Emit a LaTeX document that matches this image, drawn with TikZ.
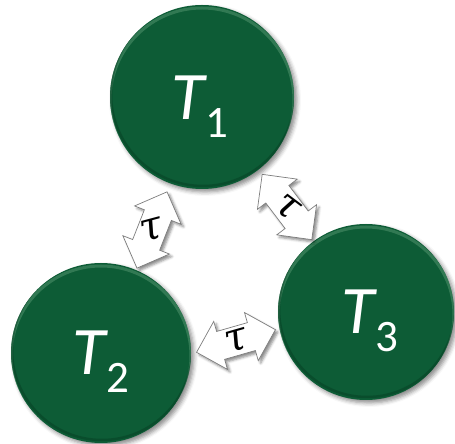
\documentclass[tikz,border=0pt]{standalone}
\usepackage{fontspec}
\setmainfont{Carlito}
\newfontfamily\taufont{DejaVu Serif}
\usetikzlibrary{shadows.blur,calc}
\definecolor{tgreen}{RGB}{13,92,54}
\definecolor{trim}{RGB}{80,145,108}
\definecolor{tdark}{RGB}{4,50,28}
\definecolor{aline}{RGB}{125,125,125}
\newcommand\Tlab[1]{\fontsize{68}{68}\selectfont\itshape T\kern1pt\upshape\raisebox{-18pt}{\fontsize{45}{45}\selectfont #1}}
\begin{document}
\begin{tikzpicture}[x=1pt,y=1pt,
  task/.style={circle, fill=tgreen, inner sep=0pt,
    blur shadow={shadow xshift=3pt, shadow yshift=-3pt, shadow blur radius=4pt, shadow opacity=45}},
  tlabel/.style={text=white, inner sep=0pt},
  taunode/.style={inner sep=0pt, font=\taufont\itshape\fontsize{40}{40}\selectfont},
  arrowbody/.style={draw=aline, fill=white, line width=0.7pt, line join=miter,
    blur shadow={shadow xshift=2.5pt, shadow yshift=-2.5pt, shadow blur radius=2.5pt, shadow opacity=45}},
  pics/dblarrow/.style={code={
    \draw[arrowbody] (-41,0) -- (-16,25) -- (-16,14.5) -- (16,14.5) -- (16,25) -- (41,0)
      -- (16,-25) -- (16,-14.5) -- (-16,-14.5) -- (-16,-25) -- cycle;}},
  rimlight/.style={draw=trim, line width=3pt, opacity=0.55},
  rimdark/.style={draw=tdark, line width=2.5pt, opacity=0.35}]
\useasboundingbox (0,0) rectangle (455,444);

\node[task, minimum size=184pt] (t1) at (202,347) {};
\node[task, minimum size=180pt] (t2) at (101,91) {};
\node[task, minimum size=176pt] (t3) at (366,132) {};

\foreach \n/\r in {t1/92, t2/90, t3/88}{
  \begin{scope}
    \clip (\n.center) circle (\r);
    \draw[rimlight] ($(\n.center)+(0,-3)$) circle (\r);
    \draw[rimdark] ($(\n.center)+(1,3)$) circle (\r);
  \end{scope}
}

\node[tlabel] (l1) at ($(t1.center)+(-2,-10)$) {\Tlab{1}};
\node[tlabel] (l2) at ($(t2.center)+(0,-9)$) {\Tlab{2}};
\node[tlabel] (l3) at ($(t3.center)+(4,-9)$) {\Tlab{3}};

\coordinate (m12) at (152,214);
\coordinate (m13) at (287,237);
\coordinate (m23) at (236,103);
\pic[rotate=68.5] at (m12) {dblarrow};
\pic[rotate=-52.8] at (m13) {dblarrow};
\pic[rotate=16] at (m23) {dblarrow};
\node[taunode, rotate=15] (tau12) at (m12) {τ};
\node[taunode, rotate=-37] (tau13) at (m13) {τ};
\node[taunode, rotate=16] (tau23) at (m23) {τ};
\end{tikzpicture}
\end{document}
